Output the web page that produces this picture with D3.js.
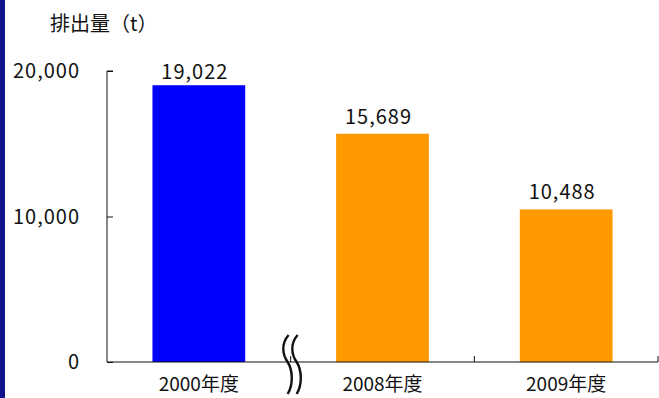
<!DOCTYPE html>
<html>
<head>
<meta charset="utf-8">
<script src="https://cdn.jsdelivr.net/npm/d3@7"></script>
<style>
  html, body { margin: 0; padding: 0; background: #fff; }
  svg { display: block; }
  text { font-family: "Noto Sans CJK JP", "Noto Sans", sans-serif; fill: #111; }
  .num { letter-spacing: 1px; }
</style>
</head>
<body>
<svg id="chart" width="659" height="398"></svg>
<script>
// Emissions by fiscal year
const categories = ["2000年度", "2008年度", "2009年度"];
const values = [19022, 15689, 10488];
const barColors = ["#0000ff", "#ff9900", "#ff9900"];
const yTicks = [0, 10000, 20000];
const yTitle = "排出量（t）";

const W = 659, H = 398;
const plot = { left: 107, right: 658, top: 71, bottom: 362 };

const svg = d3.select("#chart");

// left border stripe
svg.append("rect").attr("x", 0).attr("y", 0).attr("width", 5).attr("height", H)
  .attr("fill", "#12128c");

const x = d3.scaleBand().domain(categories).range([plot.left, plot.right]).padding(0);
const y = d3.scaleLinear().domain([0, 20000]).range([plot.bottom, plot.top]);
const barW = x.bandwidth() * 0.505;
const fmt = d3.format(",");

// bars
svg.append("g").selectAll("rect").data(values).join("rect")
  .attr("x", (d, i) => x(categories[i]) + (x.bandwidth() - barW) / 2)
  .attr("y", d => y(d))
  .attr("width", barW)
  .attr("height", d => y(0) - y(d))
  .attr("fill", (d, i) => barColors[i]);

// value labels
svg.append("g").selectAll("text").data(values).join("text")
  .attr("class", "num")
  .attr("x", (d, i) => x(categories[i]) + x.bandwidth() / 2 - 4)
  .attr("y", d => Math.max(y(d) - 10, plot.top + 8))
  .attr("text-anchor", "middle")
  .attr("font-size", 20)
  .text(d => fmt(d));

// y axis (ticks pointing inward)
const yAxis = d3.axisRight(y).tickValues(yTicks).tickSize(6).tickFormat("");
const gy = svg.append("g").attr("transform", `translate(${plot.left},0)`).call(yAxis);
gy.select(".domain").attr("d", `M6,${plot.top}H0V${plot.bottom}`).attr("stroke", "#111");
gy.selectAll(".tick line").attr("stroke", "#111");

svg.append("g").selectAll("text").data(yTicks).join("text")
  .attr("class", "num")
  .attr("x", 80)
  .attr("y", d => y(d) + 7)
  .attr("text-anchor", "end")
  .attr("font-size", 20)
  .text(d => fmt(d));

// x axis with ticks at category boundaries
svg.append("line")
  .attr("x1", plot.left).attr("x2", plot.right)
  .attr("y1", y(0)).attr("y2", y(0))
  .attr("stroke", "#111").attr("stroke-width", 1.2);
svg.append("g").selectAll("line").data(categories).join("line")
  .attr("x1", d => x(d) + x.bandwidth()).attr("x2", d => x(d) + x.bandwidth())
  .attr("y1", y(0)).attr("y2", y(0) - 6)
  .attr("stroke", "#111");

svg.append("g").selectAll("text").data(categories).join("text")
  .attr("x", d => x(d) + x.bandwidth() / 2)
  .attr("y", 391)
  .attr("text-anchor", "middle")
  .attr("font-size", 19)
  .text(d => d);

// axis title
svg.append("text")
  .attr("x", 50).attr("y", 31)
  .attr("font-size", 20)
  .text(yTitle);

// axis break mark between first and second category
const bx = x(categories[0]) + x.bandwidth();
const breakPath = (dx) => {
  const p = d3.path();
  p.moveTo(bx - 2 + dx, 335);
  p.bezierCurveTo(bx - 10 + dx, 344, bx - 8 + dx, 355, bx - 3 + dx, 362);
  p.bezierCurveTo(bx + 2 + dx, 370, bx + 3 + dx, 384, bx - 3 + dx, 394);
  return p.toString();
};
svg.append("g").selectAll("path").data([0, 9]).join("path")
  .attr("d", d => breakPath(d))
  .attr("fill", "none")
  .attr("stroke", "#111")
  .attr("stroke-width", 2.4);
</script>
</body>
</html>
